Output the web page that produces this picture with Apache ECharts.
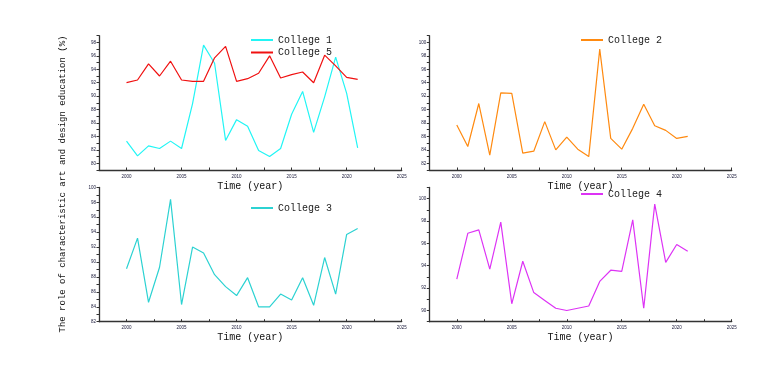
<!DOCTYPE html>
<html>
<head>
<meta charset="utf-8">
<script src="https://cdn.jsdelivr.net/npm/echarts@6/dist/echarts.min.js"></script>
<style>
html,body{margin:0;padding:0;background:#fff;}
#c{width:772px;height:366px;}
</style>
</head>
<body>
<div id="c"></div>
<script>
var years = [2000,2001,2002,2003,2004,2005,2006,2007,2008,2009,2010,2011,2012,2013,2014,2015,2016,2017,2018,2019,2020,2021];
var college1 = [83.3,81.1,82.6,82.2,83.3,82.2,88.9,97.6,94.9,83.4,86.5,85.5,81.9,81.0,82.2,87.3,90.7,84.6,89.9,95.8,90.4,82.3];
var college5 = [92.0,92.4,94.8,93.0,95.2,92.4,92.2,92.2,95.7,97.4,92.2,92.6,93.4,96.0,92.7,93.2,93.6,92.0,96.1,94.5,92.8,92.5];
var college2 = [87.7,84.5,90.9,83.2,92.5,92.4,83.5,83.8,88.2,84.0,85.9,84.1,83.0,99.0,85.7,84.1,87.2,90.8,87.6,86.9,85.7,86.0];
var college3 = [89.1,93.2,84.6,89.3,98.4,84.3,92.0,91.2,88.3,86.7,85.5,87.9,84.0,84.0,85.7,84.9,87.9,84.2,90.6,85.7,93.7,94.5];
var college4 = [92.8,96.9,97.2,93.7,97.9,90.6,94.4,91.6,90.9,90.2,90.0,90.2,90.4,92.6,93.6,93.5,98.1,90.2,99.5,94.3,95.9,95.3];
var seriesNames = ['College 1','College 5','College 2','College 3','College 4'];
var xTitle = 'Time (year)';
var yTitle = 'The role of characteristic art and design education (%)';
var yRanges = [[79,99],[81,101],[82,100],[89,101]];

function pairs(vals){ return years.map(function(y,i){ return [y, vals[i]]; }); }

var FONT = 'Liberation Mono';
var grids = [
  {left:99, top:35.7, width:302.7, height:134.3},
  {left:429.3, top:35.7, width:302.4, height:134.3},
  {left:99, top:187.4, width:302.7, height:134.3},
  {left:429.3, top:187.4, width:302.4, height:134.3}
];
var xAxes = [], yAxes = [];
for (var g=0; g<4; g++){
  xAxes.push({
    type:'value', gridIndex:g, min:1997.5, max:2025, interval:2.5,
    name:xTitle, nameLocation:'middle', nameGap:11,
    nameTextStyle:{fontFamily:FONT, fontSize:10, color:'#111'},
    axisLine:{show:true, onZero:false, lineStyle:{color:'#333', width:1.3}},
    axisTick:{show:true, inside:true, length:2.5, lineStyle:{color:'#333', width:1}},
    axisLabel:{interval:0, fontSize:4.5, color:'#1a1a3a', margin:4,
      formatter:function(v){ return (Math.abs(v % 5) < 1e-6) ? String(v) : ''; }},
    splitLine:{show:false}
  });
  yAxes.push({
    type:'value', gridIndex:g, min:yRanges[g][0], max:yRanges[g][1], interval:1,
    axisLine:{show:true, onZero:false, lineStyle:{color:'#333', width:1.3}},
    axisTick:{show:true, length:2.5, lineStyle:{color:'#333', width:1}},
    axisLabel:{interval:0, fontSize:4.5, color:'#1a1a3a', margin:3,
      formatter:function(v){ return (v % 2 === 0) ? String(v) : ''; }},
    splitLine:{show:false}
  });
}

function mk(name, vals, color, gi){
  return {name:name, type:'line', xAxisIndex:gi, yAxisIndex:gi, data:pairs(vals),
    symbol:'none', lineStyle:{color:color, width:1.2}, itemStyle:{color:color}, animation:false};
}
var colors = {'College 1':'#22F5F5','College 5':'#F01010','College 2':'#FF8A10','College 3':'#2CD2D2','College 4':'#DD33F5'};

function legend(names, left, top){
  return {data:names, orient:'vertical', left:left, top:top, itemWidth:22, itemHeight:12, itemGap:2.5,
    padding:0, itemStyle:{opacity:0},
    textStyle:{fontFamily:FONT, fontSize:10, color:'#222', padding:[0,0,0,0]}};
}

var option = {
  animation:false,
  backgroundColor:'#fff',
  grid:grids,
  xAxis:xAxes,
  yAxis:yAxes,
  legend:[
    legend(['College 1','College 5'], 250, 35),
    legend(['College 2'], 580, 35),
    legend(['College 3'], 250, 203),
    legend(['College 4'], 580, 189)
  ],
  graphic:[{
    type:'text', x:63, y:184, rotation:Math.PI/2,
    style:{text:yTitle, fontFamily:FONT, fontSize:9, fill:'#111', textAlign:'center', textVerticalAlign:'middle'}
  }],
  series:[
    mk('College 1', college1, colors['College 1'], 0),
    mk('College 5', college5, colors['College 5'], 0),
    mk('College 2', college2, colors['College 2'], 1),
    mk('College 3', college3, colors['College 3'], 2),
    mk('College 4', college4, colors['College 4'], 3)
  ]
};
var chart = echarts.init(document.getElementById('c'), null, {renderer:'canvas'});
chart.setOption(option);
</script>
</body>
</html>
